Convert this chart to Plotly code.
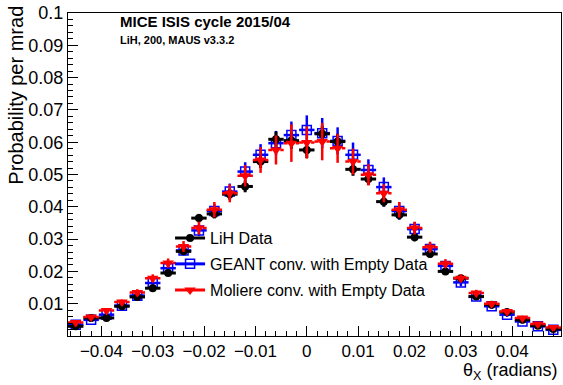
import plotly.graph_objects as go

# ---- data ----
theta_x = [round(-0.045 + 0.003 * i, 3) for i in range(32)]
bin_half_width = 0.0015

lih_data = [0.0030, 0.0056, 0.0056, 0.0092, 0.0121, 0.0148, 0.0195, 0.0262,
            0.0365, 0.0378, 0.0439, 0.0463, 0.0540, 0.0609, 0.0605, 0.0576,
            0.0626, 0.0602, 0.0516, 0.0486, 0.0416, 0.0375, 0.0306, 0.0254,
            0.0200, 0.0179, 0.0122, 0.0097, 0.0074, 0.0050, 0.0032, 0.0022]
lih_err = [0.0004, 0.0005, 0.0005, 0.0006, 0.0007, 0.0008, 0.0009, 0.0011,
           0.0013, 0.0014, 0.0016, 0.0018, 0.0020, 0.0024, 0.0025, 0.0025,
           0.0025, 0.0024, 0.0020, 0.0018, 0.0016, 0.0014, 0.0013, 0.0011,
           0.0009, 0.0008, 0.0007, 0.0006, 0.0005, 0.0005, 0.0004, 0.0004]

geant = [0.0035, 0.0050, 0.0066, 0.0094, 0.0125, 0.0164, 0.0210, 0.0265,
         0.0327, 0.0387, 0.0447, 0.0509, 0.0561, 0.0597, 0.0622, 0.0638,
         0.0628, 0.0604, 0.0561, 0.0514, 0.0461, 0.0387, 0.0331, 0.0269,
         0.0217, 0.0166, 0.0122, 0.0092, 0.0066, 0.0045, 0.0030, 0.0019]
geant_err = [0.0005, 0.0006, 0.0007, 0.0008, 0.0009, 0.0011, 0.0013, 0.0015,
             0.0018, 0.0021, 0.0025, 0.0029, 0.0033, 0.0038, 0.0042, 0.0045,
             0.0047, 0.0042, 0.0038, 0.0033, 0.0030, 0.0027, 0.0022, 0.0018,
             0.0015, 0.0012, 0.0010, 0.0008, 0.0007, 0.0006, 0.0005, 0.0005]

moliere = [0.0042, 0.0059, 0.0079, 0.0105, 0.0135, 0.0179, 0.0226, 0.0277,
           0.0334, 0.0391, 0.0442, 0.0496, 0.0545, 0.0576, 0.0597, 0.0599,
           0.0602, 0.0581, 0.0540, 0.0499, 0.0442, 0.0391, 0.0334, 0.0275,
           0.0224, 0.0179, 0.0133, 0.0100, 0.0076, 0.0056, 0.0037, 0.0026]
moliere_err = [0.0005, 0.0006, 0.0007, 0.0008, 0.0010, 0.0012, 0.0014, 0.0017,
               0.0020, 0.0024, 0.0028, 0.0033, 0.0040, 0.0045, 0.0058, 0.0050,
               0.0058, 0.0045, 0.0040, 0.0033, 0.0028, 0.0024, 0.0020, 0.0017,
               0.0014, 0.0012, 0.0010, 0.0008, 0.0007, 0.0006, 0.0005, 0.0005]

y_ticks = [0.01, 0.02, 0.03, 0.04, 0.05, 0.06, 0.07, 0.08, 0.09, 0.1]

FONT = "Liberation Sans, Arial, sans-serif"
BLACK, BLUE, RED = "#000000", "#0000ff", "#ff0000"

fig = go.Figure()

# GEANT (blue open squares)
fig.add_trace(go.Scatter(
    x=theta_x, y=geant, mode="markers", showlegend=False,
    marker=dict(symbol="square-open", size=9, color=BLUE, line=dict(width=1.5, color=BLUE)),
    error_y=dict(type="data", array=geant_err, color=BLUE, thickness=2.5, width=0),
    error_x=dict(type="constant", value=bin_half_width, color=BLUE, thickness=2.5, width=0),
))

# LiH data (black circles)
fig.add_trace(go.Scatter(
    x=theta_x, y=lih_data, mode="markers", showlegend=False,
    marker=dict(symbol="circle", size=8, color=BLACK),
    error_y=dict(type="data", array=lih_err, color=BLACK, thickness=3, width=0),
    error_x=dict(type="constant", value=bin_half_width, color=BLACK, thickness=3, width=0),
))

# Moliere (red triangles, dashed horizontal bars)
hx, hy = [], []
for xv, yv in zip(theta_x, moliere):
    hx += [xv - bin_half_width, xv + bin_half_width, None]
    hy += [yv, yv, None]
fig.add_trace(go.Scatter(
    x=hx, y=hy, mode="lines", showlegend=False, hoverinfo="skip",
    line=dict(color=RED, width=2.5, dash="4px,2px"),
))
fig.add_trace(go.Scatter(
    x=theta_x, y=moliere, mode="markers", showlegend=False,
    marker=dict(symbol="triangle-down", size=10, color=RED),
    error_y=dict(type="data", array=moliere_err, color=RED, thickness=2.5, width=0),
))

# legend entries
fig.add_trace(go.Scatter(x=[None], y=[None], mode="lines+markers", name="LiH Data",
                         line=dict(color=BLACK, width=3), marker=dict(symbol="circle", size=8, color=BLACK),
                         legend="legend"))
fig.add_trace(go.Scatter(x=[None], y=[None], mode="lines+markers", name="GEANT conv. with Empty Data",
                         line=dict(color=BLUE, width=3),
                         marker=dict(symbol="square-open", size=9, color=BLUE, line=dict(width=1.5, color=BLUE)),
                         legend="legend2"))
fig.add_trace(go.Scatter(x=[None], y=[None], mode="lines+markers", name="Moliere conv. with Empty Data",
                         line=dict(color=RED, width=3), marker=dict(symbol="triangle-down", size=10, color=RED),
                         legend="legend3"))

leg_common = dict(x=0.207, xanchor="left", yanchor="middle", bgcolor="rgba(0,0,0,0)",
                  font=dict(family=FONT, size=16, color="black"), borderwidth=0)

fig.update_layout(
    width=563, height=385,
    margin=dict(l=68, r=2, t=13, b=49),
    paper_bgcolor="white", plot_bgcolor="white",
    font=dict(family=FONT, color="black"),
    legend=dict(y=0.303, **leg_common),
    legend2=dict(y=0.223, **leg_common),
    legend3=dict(y=0.142, **leg_common),
    xaxis=dict(
        range=[-0.0465, 0.0495], tick0=0, dtick=0.01,
        ticks="inside", ticklen=10, tickwidth=1, tickcolor="black",
        minor=dict(dtick=0.002, ticks="inside", ticklen=5, tickcolor="black"),
        showline=True, linecolor="black", linewidth=1, mirror=True,
        showgrid=False, zeroline=False,
        tickfont=dict(family=FONT, size=17, color="black"),
    ),
    yaxis=dict(
        range=[0, 0.1], tickmode="array", tickvals=y_ticks,
        ticks="inside", ticklen=10, tickwidth=1, tickcolor="black",
        minor=dict(dtick=0.002, ticks="inside", ticklen=5, tickcolor="black"),
        showline=True, linecolor="black", linewidth=1, mirror=True,
        showgrid=False, zeroline=False,
        tickfont=dict(family=FONT, size=18, color="black"),
    ),
    annotations=[
        dict(text="MICE ISIS cycle 2015/04", xref="paper", yref="paper", x=0.101, y=0.975,
             xanchor="left", yanchor="middle", showarrow=False,
             font=dict(family=FONT, size=15, color="black", weight="bold")),
        dict(text="LiH, 200, MAUS v3.3.2", xref="paper", yref="paper", x=0.101, y=0.915,
             xanchor="left", yanchor="middle", showarrow=False,
             font=dict(family=FONT, size=11, color="black", weight="bold")),
        dict(text="Probability per mrad", xref="paper", yref="paper", x=-0.105, y=1.028,
             xanchor="center", yanchor="top", textangle=-90, showarrow=False,
             font=dict(family=FONT, size=20, color="black")),
        dict(text="θ<sub>X</sub> (radians)", xref="paper", yref="paper", x=0.996, y=-0.068,
             xanchor="right", yanchor="top", showarrow=False,
             font=dict(family=FONT, size=18, color="black")),
    ],
)

fig.write_html("out.html")
